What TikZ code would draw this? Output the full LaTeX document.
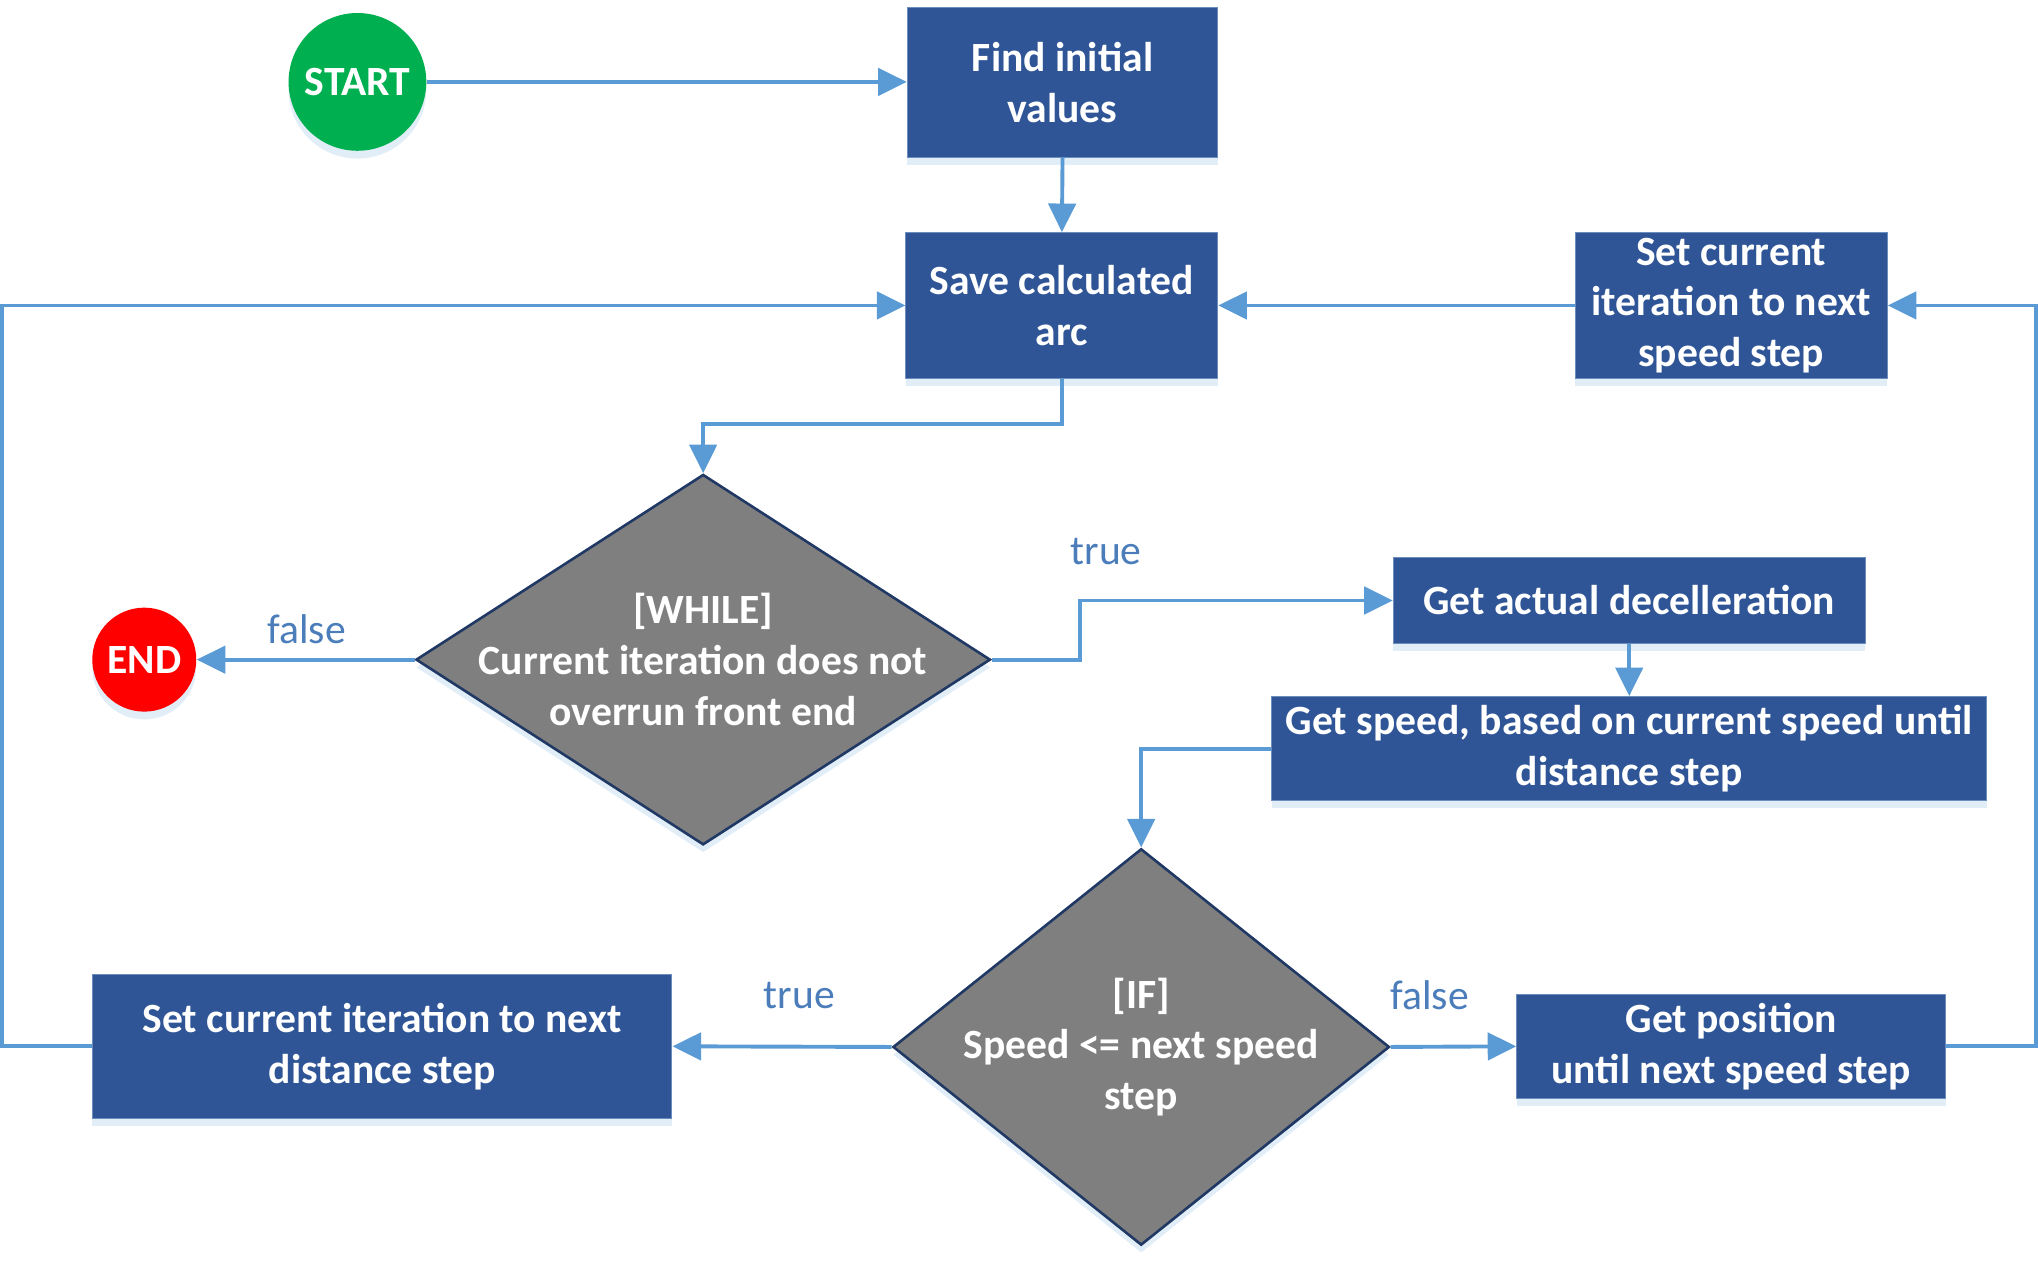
\documentclass[tikz,border=0pt]{standalone}
\usepackage{fontspec}
\setmainfont{Carlito}
\usetikzlibrary{shapes.geometric,arrows.meta,shadows}
\definecolor{boxblue}{HTML}{2F5597}
\definecolor{boxedge}{HTML}{6C8EBF}
\definecolor{dgray}{HTML}{7F7F7F}
\definecolor{dedge}{HTML}{203864}
\definecolor{arrowc}{HTML}{5B9BD5}
\definecolor{lblc}{HTML}{4A7DBA}
\definecolor{sgreen}{HTML}{00B050}
\definecolor{sred}{HTML}{FF0000}
\tikzset{
  shade/.style={drop shadow={shadow xshift=0pt,shadow yshift=-3pt,opacity=0.18,fill=arrowc}},
  procbox/.style={rectangle,fill=boxblue,draw=boxedge,line width=0.4pt,text=white,
    font=\fontsize{16}{19.5}\selectfont\bfseries,align=center,inner sep=0pt,shade},
  decision/.style={diamond,fill=dgray,draw=dedge,line width=1pt,inner sep=0pt,shade},
  dtext/.style={text=white,font=\fontsize{16}{19.5}\selectfont\bfseries,align=center},
  terminal/.style={circle,text=white,font=\fontsize{16}{19.5}\selectfont\bfseries,inner sep=0pt,shade},
  conn/.style={draw=arrowc,line width=1.5pt,-{Triangle[length=11pt,width=10.5pt]}},
  lbl/.style={text=lblc,font=\fontsize{16}{19.5}\selectfont}
}
\begin{document}
\begin{tikzpicture}[x=0.5pt,y=-0.5pt]
\useasboundingbox (0,0) rectangle (1568,976);
% nodes
\node[terminal,fill=sgreen,minimum size=53pt] (start) at (275,63) {START};
\node[procbox,minimum width=119.5pt,minimum height=57.5pt] (find) at (817.5,63.5) {Find initial\\values};
\node[procbox,minimum width=120pt,minimum height=56pt] (save) at (817,235) {Save calculated\\arc};
\node[procbox,minimum width=120pt,minimum height=56pt] (setspeed) at (1332,235) {Set current\\iteration to next\\speed step};
\node[decision,minimum width=221pt,minimum height=142.5pt] (while) at (541,507.5) {};
\node[dtext] (whiletext) at (while) {[WHILE]\\Current iteration does not\\overrun front end};
\node[terminal,fill=sred,minimum size=40pt] (end) at (111,507.5) {END};
\node[procbox,minimum width=181.5pt,minimum height=33pt] (decel) at (1253.5,462) {Get actual decelleration};
\node[procbox,minimum width=275pt,minimum height=40pt] (getspeed) at (1253.5,576) {Get speed, based on current speed until\\distance step};
\node[decision,minimum width=191pt,minimum height=152.5pt] (if) at (878,805.5) {};
\node[dtext] (iftext) at (if) {[IF]\\Speed <= next speed\\step};
\node[procbox,minimum width=223pt,minimum height=55.5pt] (setdist) at (294,805) {Set current iteration to next\\distance step};
\node[procbox,minimum width=165pt,minimum height=40pt] (getpos) at (1332,805) {Get position\\until next speed step};
% labels
\node[lbl] (lfalse1) at (236,484) {false};
\node[lbl] (ltrue1) at (851,424) {true};
\node[lbl] (ltrue2) at (615,766) {true};
\node[lbl] (lfalse2) at (1100,766) {false};
% connectors
\draw[conn] (start.east) -- (start.east -| find.west);
\draw[conn] (find.south) -- (save.north);
\draw[conn] (save.south) -- ++(0,35) -| (while.north);
\draw[conn] (setspeed.west) -- (save.east);
\draw[conn] (while.west) -- (end.east);
\draw[conn] (while.east) -- ++(68,0) |- (decel.west);
\draw[conn] (decel.south) -- (getspeed.north);
\draw[conn] (getspeed.west) -| (if.north);
\draw[conn] (if.west) -- (setdist.east);
\draw[conn] (if.east) -- (getpos.west);
\draw[conn] (getpos.east) -- ++(69,0) |- (setspeed.east);
\draw[conn] (setdist.west) -- ++(-69,0) |- (save.west);
\end{tikzpicture}
\end{document}
